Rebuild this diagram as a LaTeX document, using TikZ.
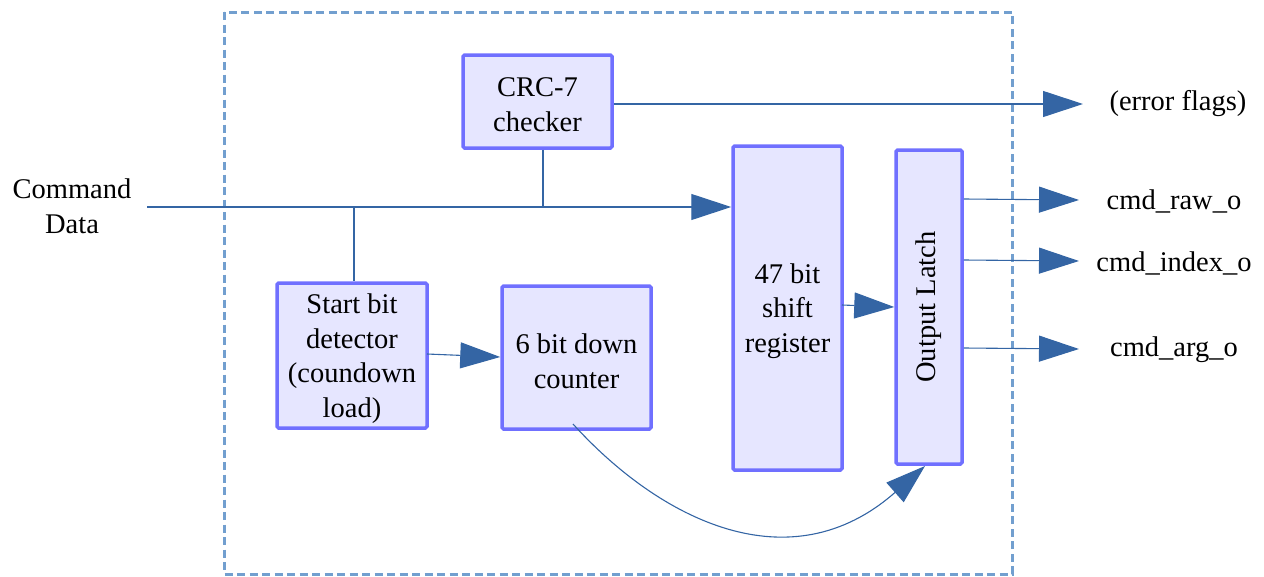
\documentclass[tikz,border=0pt]{standalone}
\usepackage{fontspec}
\setmainfont{Liberation Serif}
\usetikzlibrary{arrows.meta}
\definecolor{boxfill}{HTML}{E6E6FF}
\definecolor{boxline}{HTML}{7070FF}
\definecolor{wire}{HTML}{3465A4}
\definecolor{frame}{HTML}{729FCF}
\begin{document}
\begin{tikzpicture}[x=1pt,y=-1pt,
  every node/.style={font=\fontsize{28.5}{34.5}\selectfont, inner sep=0pt},
  blk/.style={draw=boxline, fill=boxfill, line width=3.5pt, rounded corners=1.5pt, align=center},
  wireline/.style={draw=wire, line width=1.1pt},
  arr/.style={wireline, -{Triangle[length=40pt,width=26pt]}},
  lbl/.style={align=center}]
\useasboundingbox (0,0) rectangle (1264,576);
\draw[frame, line width=3pt, dash pattern=on 8pt off 4.5pt] (224,12) rectangle (1012,574);

\node[blk, minimum width=149pt, minimum height=93pt] (crc) at (537.5,101.5) {};
\node (crct) at (537.5,104.5) [align=center] {CRC-7\\checker};
\node[blk, minimum width=109pt, minimum height=324pt] (sr) at (787.5,308) {};
\node (srt) at (787.5,311) [align=center] {47 bit\\shift\\register};
\node[blk, minimum width=66pt, minimum height=314pt] (ol) at (929,307) {};
\node[rotate=90] (oltext) at (929,307) {Output Latch};
\node[blk, minimum width=150pt, minimum height=145pt] (sb) at (352,355.5) {};
\node (sbt) at (352,358.5) [align=center] {Start bit\\detector\\(coundown\\load)};
\node[blk, minimum width=149pt, minimum height=143pt] (dc) at (576.5,357.5) {};
\node (dct) at (576.5,361) [align=center] {6 bit down\\counter};

\node[lbl] (cmd) at (72,206) {Command\\Data};
\node[lbl] (err) at (1178,104) {(error flags)};
\node[lbl] (raw) at (1174,201) {cmd\_raw\_o};
\node[lbl] (idx) at (1174,263) {cmd\_index\_o};
\node[lbl] (arg) at (1174,350) {cmd\_arg\_o};

\coordinate (cin) at (147,207);
\coordinate (j1) at (354,207);
\coordinate (j2) at (543,207);
\coordinate (errtip) at (1083,104);
\coordinate (rawtip) at (1079,200);
\coordinate (idxtip) at (1079,261);
\coordinate (argtip) at (1079,349);
\coordinate (cstart) at (573,424);
\coordinate (cend) at (925,466);

\draw[arr] (cin) -- (sr.west |- cin);
\draw[wireline] (j1) -- (sb.north -| j1);
\draw[wireline] (crc.south -| j2) -- (j2);
\draw[arr] (crc.east |- errtip) -- (errtip);
\draw[arr] (427,354) -- (dc.west |- 0,357);
\draw[arr] (842,305) -- (ol.west |- 0,307);
\draw[arr] (ol.east |- 0,199) -- (rawtip);
\draw[arr] (ol.east |- 0,260) -- (idxtip);
\draw[arr] (ol.east |- 0,348) -- (argtip);
\draw[arr] (cstart) .. controls (660,520) and (790,585) .. (cend);
\end{tikzpicture}
\end{document}
